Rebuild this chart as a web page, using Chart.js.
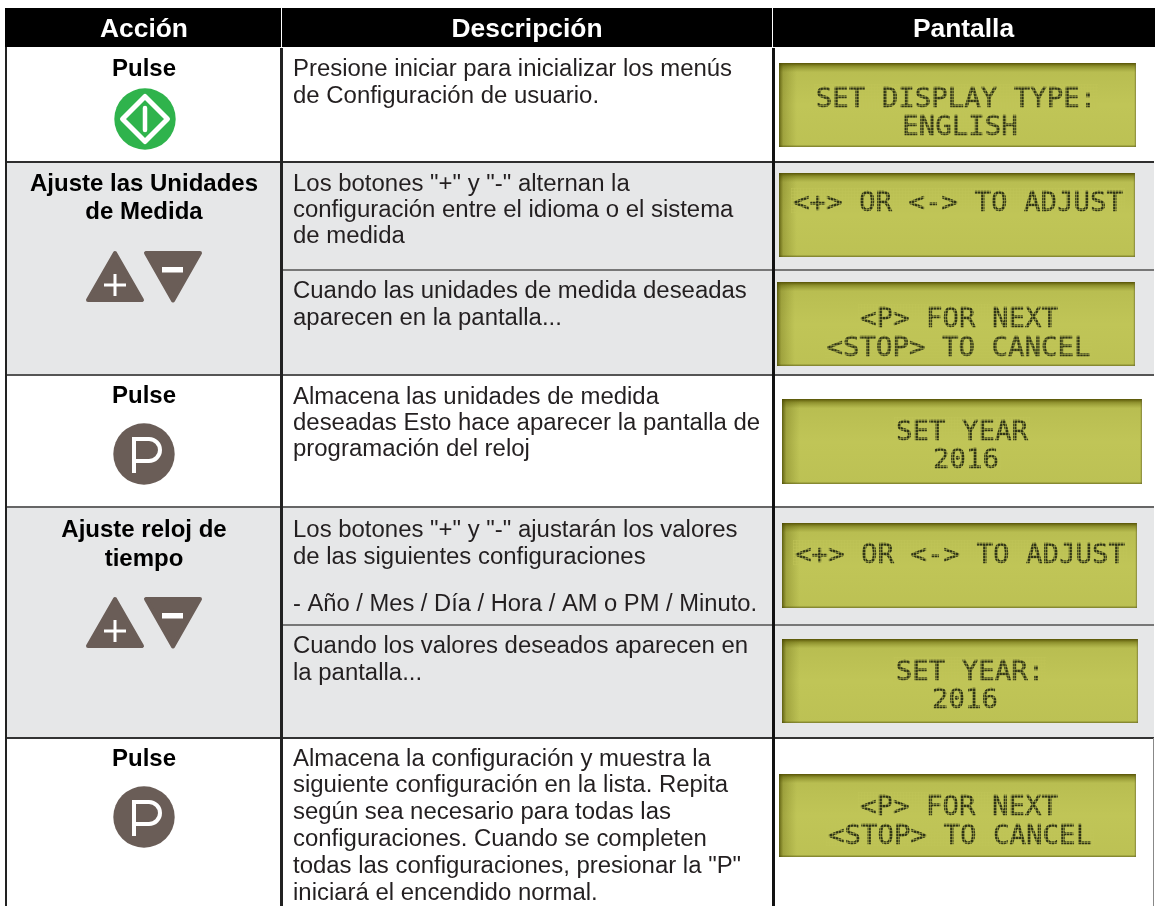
<!DOCTYPE html>
<html lang="es"><head><meta charset="utf-8">
<style>html,body{margin:0;padding:0;background:#fff}canvas{display:block}</style>
<script src="https://cdn.jsdelivr.net/npm/chart.js@4"></script>
</head><body><canvas id="c" width="1155" height="906"></canvas>
<script>
const headers = ["Acción","Descripción","Pantalla"];
const headerCenters = [144,527,963.5];
const columnEdges = [6,281,773,1154];
const rowEdges = [47,162,270,375,507,625,738,906];
const rowFills = ["#ffffff","#e6e7e8","#e6e7e8","#ffffff","#e6e7e8","#e6e7e8","#ffffff"];
const fullRules = [[162,"#2e2e2e"],[375,"#555555"],[507,"#666666"],[738,"#333333"]];
const partRules = [[270,"#777777"],[625,"#777777"]];
const actionLabels = [
 [["Pulse",76]],
 [["Ajuste las Unidades",190.5],["de Medida",219]],
 [["Pulse",403]],
 [["Ajuste reloj de",537],["tiempo",566]],
 [["Pulse",766]]
];
const descriptions = [
 [["Presione iniciar para inicializar los menús",76],["de Configuración de usuario.",102.5]],
 [["Los botones \"+\" y \"-\" alternan la",190.5],["configuración entre el idioma o el sistema",217],["de medida",243]],
 [["Cuando las unidades de medida deseadas",297.5],["aparecen en la pantalla...",324.5]],
 [["Almacena las unidades de medida",403.5],["deseadas Esto hace aparecer la pantalla de",430],["programación del reloj",456]],
 [["Los botones \"+\" y \"-\" ajustarán los valores",537],["de las siguientes configuraciones",564],["- Año / Mes / Día / Hora / AM o PM / Minuto.",611,464]],
 [["Cuando los valores deseados aparecen en",653],["la pantalla...",680]],
 [["Almacena la configuración y muestra la",765.5],["siguiente configuración en la lista. Repita",792],["según sea necesario para todas las",819],["configuraciones. Cuando se completen",846],["todas las configuraciones, presionar la \"P\"",872.5],["iniciará el encendido normal.",900]]
];
const panels = [
 {x:[779,1136],y:[63,147],lines:[["SET DISPLAY TYPE:",956,107],["ENGLISH",960,135]]},
 {x:[779,1135],y:[173,257],lines:[["<+> OR <-> TO ADJUST",958,211]]},
 {x:[777,1135],y:[282,366],lines:[["<P> FOR NEXT",959,327],["<STOP> TO CANCEL",958.5,356]]},
 {x:[782,1142],y:[399,484],lines:[["SET YEAR",962,440],["2016",966,468]]},
 {x:[782,1137],y:[523,608],lines:[["<+> OR <-> TO ADJUST",960,563]]},
 {x:[782,1138],y:[639,723],lines:[["SET YEAR:",970,680],["2016",965,708]]},
 {x:[779,1136],y:[774,857],lines:[["<P> FOR NEXT",959,815],["<STOP> TO CANCEL",960,844]]}
];
const startIcons = [[145,119]];
const stopIcons = [[144,454],[144,817]];
const triangleTops = [251,597];

const sans = '"Liberation Sans", Arial, sans-serif';
const ink = "#231f20", brown = "#6a5d57", lcd = "#c0c557";
const sets = [];
function box(x0,x1,y0,y1,color,extra){
  sets.push(Object.assign({data:[{x:(x0+x1)/2,y:[y0,y1]}],barThickness:x1-x0,grouped:false,
    backgroundColor:color,borderWidth:0,inflateAmount:0,order:-sets.length},extra||{}));
}
box(5,1155,8,47,"#000000");
rowFills.forEach((f,i)=>box(columnEdges[0],columnEdges[3],rowEdges[i],rowEdges[i+1],f));
fullRules.forEach(r=>box(columnEdges[0],columnEdges[3],r[0]-1,r[0]+1,r[1]));
partRules.forEach(r=>box(columnEdges[1],columnEdges[3],r[0]-1,r[0]+1,r[1]));
box(5,7,47,906,"#222222");
box(280,283,48,906,"#222222");
box(772,775,48,906,"#111111");
box(1153,1154,738,906,"#888888");
box(281,282,8,47,"#ffffff");
box(772,773,8,47,"#ffffff");
panels.forEach(p=>box(p.x[0],p.x[1],p.y[0],p.y[1],lcd));

const tablePlugin = {
  id:"table",
  afterDatasetsDraw(chart){
    const c = chart.ctx, X = chart.scales.x, Y = chart.scales.y;
    const px = v=>X.getPixelForValue(v), py = v=>Y.getPixelForValue(v);
    c.save();
    c.textBaseline="alphabetic"; c.textAlign="center";
    c.fillStyle="#ffffff"; c.font='bold 26.4px '+sans;
    headers.forEach((h,i)=>c.fillText(h,px(headerCenters[i]),py(37)));
    c.fillStyle="#000000"; c.font='bold 24px '+sans;
    actionLabels.flat().forEach(l=>c.fillText(l[0],px(144),py(l[1])));
    c.textAlign="left"; c.fillStyle=ink; c.font='23.95px '+sans;
    descriptions.flat().forEach(l=>l[2]?c.fillText(l[0],px(293),py(l[1]),l[2]):c.fillText(l[0],px(293),py(l[1])));
    panels.forEach(p=>{
      const x0=px(p.x[0]),x1=px(p.x[1]),y0=py(p.y[0]),y1=py(p.y[1]);
      let g=c.createLinearGradient(0,y0,0,y1);
      g.addColorStop(0,"rgba(80,75,0,.95)");g.addColorStop(.04,"rgba(100,100,10,.55)");
      g.addColorStop(.11,"rgba(120,125,30,.1)");g.addColorStop(.5,"rgba(120,125,30,0)");
      g.addColorStop(.97,"rgba(120,125,30,.05)");g.addColorStop(1,"rgba(100,100,30,.8)");
      c.fillStyle=g;c.fillRect(x0,y0,x1-x0,y1-y0);
      g=c.createLinearGradient(x0,0,x1,0);
      g.addColorStop(0,"rgba(70,70,0,.8)");g.addColorStop(.012,"rgba(90,90,10,.3)");
      g.addColorStop(.05,"rgba(100,105,20,0)");g.addColorStop(.995,"rgba(100,105,20,0)");g.addColorStop(1,"rgba(110,105,60,.7)");
      c.fillStyle=g;c.fillRect(x0,y0,x1-x0,y1-y0);
      c.textAlign="center"; c.font='27.4px "DejaVu Sans Mono", monospace';
      p.lines.forEach(l=>{
        c.fillStyle="#2f3416"; c.strokeStyle="#2f3416"; c.lineWidth=.6; c.lineJoin="round";
        c.fillText(l[0],px(l[1]),py(l[2]));
        c.strokeText(l[0],px(l[1]),py(l[2]));
        c.fillStyle="rgba(192,197,87,.48)";
        const w=l[0].length*16.5, left=px(l[1])-w/2-2, top=py(l[2])-23;
        for(let yy=top;yy<top+25;yy+=3) c.fillRect(left,yy,w+4,1);
        for(let xx=left;xx<left+w+4;xx+=3) c.fillRect(xx,top,1,25);
      });
    });
    startIcons.forEach(([ix,iy])=>{
      const cx=px(ix),cy=py(iy);
      c.fillStyle="#2fb34c";c.beginPath();c.arc(cx,cy,30.7,0,Math.PI*2);c.fill();
      c.strokeStyle="#ffffff";c.lineWidth=5;c.lineJoin="round";
      c.beginPath();c.moveTo(cx,cy-22.5);c.lineTo(cx+22.5,cy);c.lineTo(cx,cy+22.5);c.lineTo(cx-22.5,cy);c.closePath();c.stroke();
      c.lineCap="round";c.lineWidth=4.5;c.beginPath();c.moveTo(cx,cy-11);c.lineTo(cx,cy+11);c.stroke();c.lineCap="butt";
    });
    stopIcons.forEach(([ix,iy])=>{
      const cx=px(ix),cy=py(iy);
      c.fillStyle=brown;c.beginPath();c.arc(cx,cy,30.7,0,Math.PI*2);c.fill();
      c.strokeStyle="#ffffff";c.lineWidth=4;c.lineJoin="miter";
      c.beginPath();c.moveTo(cx-10,cy+19);c.lineTo(cx-10,cy-15);c.lineTo(cx+5,cy-15);
      c.arc(cx+5,cy-4,11,-Math.PI/2,Math.PI/2);c.lineTo(cx-10,cy+7);c.stroke();
    });
    triangleTops.forEach(t=>{
      const top=py(t);
      c.fillStyle=brown;c.strokeStyle=brown;c.lineWidth=4;c.lineJoin="round";
      c.beginPath();c.moveTo(px(115),top+2);c.lineTo(px(142),top+49);c.lineTo(px(88),top+49);c.closePath();c.fill();c.stroke();
      c.beginPath();c.moveTo(px(146),top+2);c.lineTo(px(200),top+2);c.lineTo(px(173),top+49.5);c.closePath();c.fill();c.stroke();
      c.fillStyle="#ffffff";
      c.fillRect(px(104),top+32.5,22,3);c.fillRect(px(113.5),top+23,3,22);
      c.fillRect(px(162),top+16,21,5.5);
    });
    c.restore();
  }
};
new Chart(document.getElementById("c"),{
  type:"bar",
  data:{datasets:sets},
  options:{
    responsive:false,animation:false,
    layout:{padding:0},
    plugins:{legend:{display:false},tooltip:{enabled:false}},
    scales:{
      x:{type:"linear",min:0,max:1155,display:false,offset:false},
      y:{type:"linear",min:0,max:906,reverse:true,display:false}
    }
  },
  plugins:[tablePlugin]
});
</script></body></html>
